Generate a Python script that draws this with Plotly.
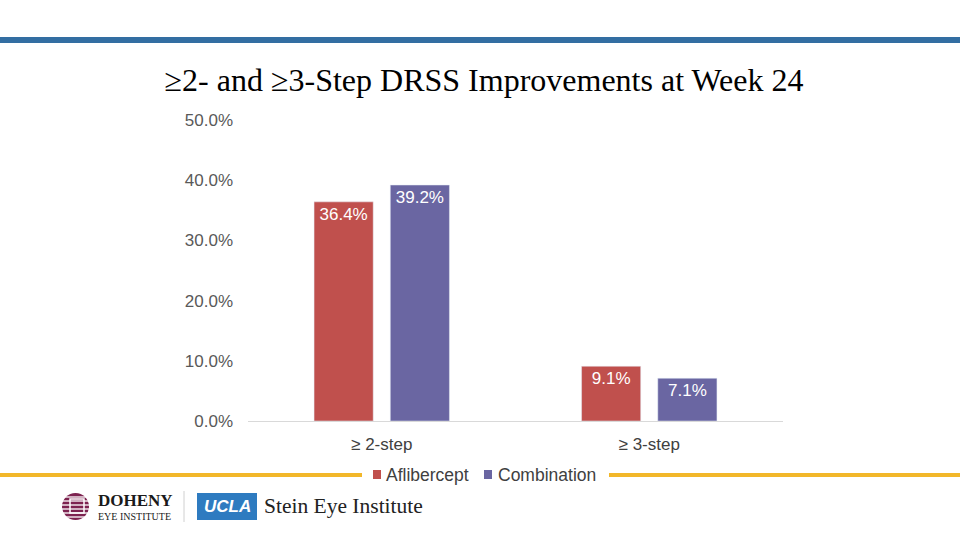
import plotly.graph_objects as go

categories = ["≥ 2-step", "≥ 3-step"]
aflibercept = [0.364, 0.091]
combination = [0.392, 0.071]
series_names = ["Aflibercept", "Combination"]
title_text = "≥2- and ≥3-Step DRSS Improvements at Week 24"
y_ticks = [0, 0.1, 0.2, 0.3, 0.4, 0.5]

W, H = 960, 540
PL, PR, PT, PB = 248, 783, 120, 421  # plot area in pixels


def px(x):
    return (x - PL) / (PR - PL)


def py(y):
    return (PB - y) / (PB - PT)


RED = "#C0504D"
PURPLE = "#6A66A2"
colors = [RED, PURPLE]

fig = go.Figure()
for name, vals, col in [(series_names[0], aflibercept, RED), (series_names[1], combination, PURPLE)]:
    fig.add_trace(go.Bar(
        x=categories, y=vals, name=name, marker_color=col,
        text=[f"{v*100:.1f}%" for v in vals],
        textposition="inside", insidetextanchor="end", textangle=0,
        constraintext="none",
        textfont=dict(family="Liberation Sans, Arial", size=17, color="white"),
        cliponaxis=False, showlegend=False,
    ))

shapes = [
    dict(type="line", xref="paper", yref="paper", x0=px(0), x1=px(W), y0=py(40), y1=py(40),
         line=dict(color="#336EA2", width=6)),
    dict(type="line", xref="paper", yref="paper", x0=px(0), x1=px(362), y0=py(475), y1=py(475),
         line=dict(color="#F2B72A", width=4)),
    dict(type="line", xref="paper", yref="paper", x0=px(609), x1=px(W), y0=py(475), y1=py(475),
         line=dict(color="#F2B72A", width=4)),
    dict(type="line", xref="paper", yref="paper", x0=px(184), x1=px(184), y0=py(491), y1=py(522),
         line=dict(color="#D0D0D0", width=1)),
    dict(type="rect", xref="paper", yref="paper", x0=px(197), x1=px(257), y0=py(493), y1=py(520),
         fillcolor="#2E7BC0", line=dict(width=0)),
    dict(type="circle", xref="paper", yref="paper", x0=px(62), x1=px(89), y0=py(493), y1=py(520),
         fillcolor="#7D2350", line=dict(width=0)),
]
for yy in [497, 501, 505, 509, 513, 517]:
    shapes.append(dict(type="line", xref="paper", yref="paper", x0=px(60), x1=px(91), y0=py(yy), y1=py(yy),
                       line=dict(color="white", width=1.3)))
shapes.append(dict(type="rect", xref="paper", yref="paper", x0=px(70), x1=px(84), y0=py(499), y1=py(513),
                   fillcolor="rgba(0,0,0,0)", line=dict(color="white", width=1.5)))

legend_sq_x = [373, 484]
legend_txt_x = [386, 498]
annotations = []
for i, name in enumerate(series_names):
    shapes.append(dict(type="rect", xref="paper", yref="paper", x0=px(legend_sq_x[i]), x1=px(legend_sq_x[i] + 8),
                       y0=py(470), y1=py(479), fillcolor=colors[i], line=dict(width=0)))
    annotations.append(dict(text=name, xref="paper", yref="paper", x=px(legend_txt_x[i]), y=py(474.5),
                            xanchor="left", yanchor="middle", showarrow=False, xshift=-2,
                            font=dict(family="Liberation Sans, Arial", size=17.5, color="#404040")))

annotations += [
    dict(text="<b>DOHENY</b>", xref="paper", yref="paper", x=px(96), y=py(500), xanchor="left", yanchor="middle",
         showarrow=False, font=dict(family="Liberation Serif, Times New Roman", size=17, color="#1a1a1a")),
    dict(text="EYE INSTITUTE", xref="paper", yref="paper", x=px(96), y=py(516), xanchor="left", yanchor="middle",
         showarrow=False, font=dict(family="Liberation Serif, Times New Roman", size=10, color="#1a1a1a")),
    dict(text="<b><i>UCLA</i></b>", xref="paper", yref="paper", x=px(227), y=py(506.5), xanchor="center", yanchor="middle",
         showarrow=False, font=dict(family="Liberation Sans, Arial", size=17, color="white")),
    dict(text="Stein Eye Institute", xref="paper", yref="paper", x=px(262), y=py(506), xanchor="left", yanchor="middle",
         showarrow=False, font=dict(family="Liberation Serif, Times New Roman", size=21.5, color="#222222")),
]

fig.update_layout(
    width=W, height=H,
    margin=dict(l=PL, r=W - PR, t=PT, b=H - PB, pad=0),
    paper_bgcolor="white", plot_bgcolor="white",
    title=dict(text=title_text, xref="container", x=484 / W, xanchor="center", y=1 - 80 / H, yanchor="middle",
               font=dict(family="Liberation Serif, Times New Roman", size=32, color="black")),
    barmode="group", bargap=0.43, bargroupgap=0.224,
    showlegend=False,
    xaxis=dict(showgrid=False, showline=True, linecolor="#D9D9D9", linewidth=1, ticks="",
               tickfont=dict(family="Liberation Sans, Arial", size=17, color="#404040"),
               ticklabelstandoff=8),
    yaxis=dict(range=[0, 0.5], tickvals=y_ticks, tickformat=".1%", showgrid=False, zeroline=False,
               showline=False, ticks="", ticklabelstandoff=14,
               tickfont=dict(family="Liberation Sans, Arial", size=17, color="#595959")),
    shapes=shapes, annotations=annotations,
)

fig.write_html("out.html", config={"displayModeBar": False},
               post_script="document.body.style.margin='0';document.body.style.padding='0';")
